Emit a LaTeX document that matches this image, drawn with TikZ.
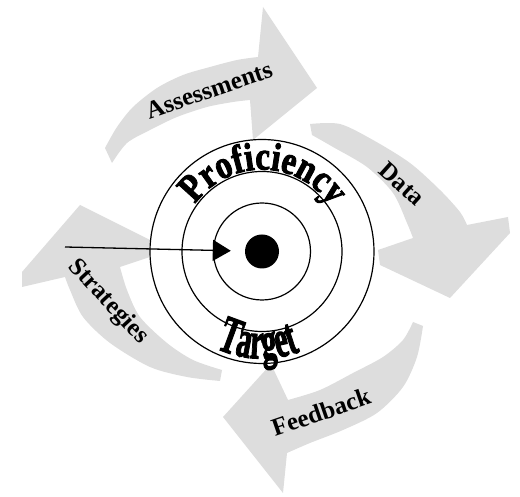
\documentclass[tikz,border=0pt]{standalone}
\usepackage{fontspec}
\usepackage{graphicx}
\setmainfont{Liberation Serif}
\newfontfamily\heavyfont[FakeBold=2.5]{Liberation Serif Bold}
\newfontfamily\lblfamily{Liberation Serif Bold}
\usetikzlibrary{arrows.meta,calc}
\definecolor{arrowgray}{HTML}{DDDDDD}
\begin{document}
\begin{tikzpicture}[x=1pt,y=1pt,
  cyc/.style={fill=arrowgray, draw=none},
  lbl/.style={font=\lblfamily\fontsize{25}{27}\selectfont, inner sep=0pt},
  ring/.style={circle, draw=black, line width=1.2pt, inner sep=0pt},
  tgt/.style={font=\heavyfont\fontsize{30}{32}\selectfont, inner sep=0pt},
  prof/.style={font=\heavyfont\fontsize{33}{35}\selectfont, inner sep=0pt},
]
\useasboundingbox (0,0) rectangle (520,497);
\coordinate (C) at (262,245.5);

% gray cycle arrows
\fill[cyc] plot[smooth] coordinates {(105,349) (117,370) (133,390) (157,409) (183,422) (210,430) (237,437) (258,440)}
  -- (263,490) -- (317,409) -- (253,357)
  -- plot[smooth] coordinates {(250,397) (233,395) (207,390) (177,380) (150,367) (127,354) (112,334)} -- cycle;
\fill[cyc] plot[smooth] coordinates {(310,373) (340,373) (373,357) (410,334) (440,307) (460,285) (467,272)}
  -- (508,280) -- (510,264) -- (450,199) -- (380,232) -- (378,247)
  -- plot[smooth] coordinates {(413,259) (407,274) (393,304) (367,330) (333,350) (312,362)} -- cycle;
\fill[cyc] plot[smooth] coordinates {(423,171) (417,140) (403,110) (377,84) (343,67) (310,54) (287,44)}
  -- (283,4) -- (223,80) -- (271,133)
  -- plot[smooth] coordinates {(288,97) (320,107) (353,124) (383,140) (403,157) (413,175)} -- cycle;
\fill[cyc] plot[smooth] coordinates {(220,116) (187,120) (150,130) (110,154) (83,180) (70,207) (65,220)}
  -- (22,210) -- (22,225) -- (80,292) -- (150,257) -- (150,240)
  -- plot[smooth] coordinates {(120,230) (127,207) (140,180) (167,154) (193,137) (222,127)} -- cycle;

% labels on arrows
\node[lbl, rotate=19] (assess) at (209,407) {Assessments};
\node[lbl, rotate=-42] (data) at (402,313) {Data};
\node[lbl, rotate=19] (feed) at (321,85) {Feedback};
\node[lbl, rotate=-47] (strat) at (108,195) {Strategies};

% target
\node[ring, minimum size=224pt, fill=white] (outer) at (C) {};
\node[ring, minimum size=160pt] (mid) at (C) {};
\node[ring, minimum size=97pt] (inner) at (C) {};
\node[circle, fill=black, minimum size=34pt, inner sep=0pt] (dot) at (C) {};

% curved texts
\foreach \ch/\a [count=\i] in {P/137.7, r/125.5, o/114.6, f/105.0, i/98.0, c/89.6, i/81.3, e/73.0, n/61.5, c/49.9, y/39.1}
  \node[prof, rotate=\a-90, anchor=base] (pf\i) at ($(C)+(\a:82)$) {\scalebox{1}[1.2]{\ch}};
\foreach \ch/\d [count=\i] in {T/-20.2, a/-10.9, r/-3.3, g/4.3, e/11.9, t/18.1}
  \node[tgt, rotate=\d, anchor=base] (tg\i) at ($(C)+(270+\d:107)$) {\scalebox{1}[1.75]{\ch}};

% pointer arrow
\coordinate (src) at (65,250);
\draw[line width=1.3pt, -{Triangle[length=18pt,width=21pt]}, shorten >=14pt] (src) -- (dot);
\end{tikzpicture}
\end{document}
